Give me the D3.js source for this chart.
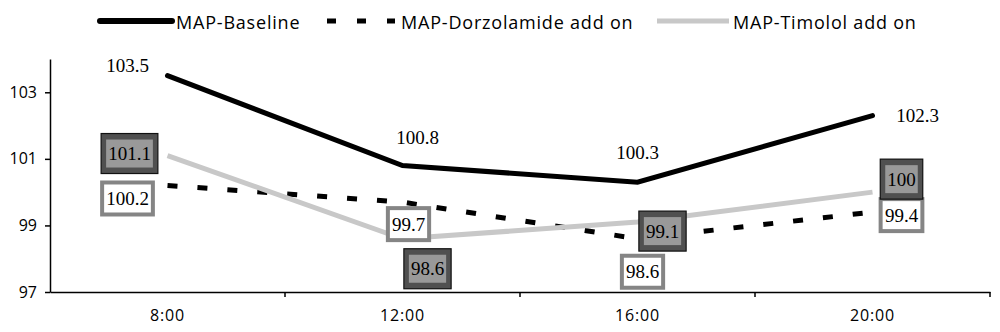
<!DOCTYPE html>
<html>
<head>
<meta charset="utf-8">
<script src="https://cdn.jsdelivr.net/npm/d3@7"></script>
<style>
  body { margin: 0; background: #fff; }
</style>
</head>
<body>
<div id="chart"></div>
<script>
const times = ['8:00', '12:00', '16:00', '20:00']
const baseline = [103.5, 100.8, 100.3, 102.3]
const dorzolamide = [100.2, 99.7, 98.6, 99.4]
const timolol = [101.1, 98.6, 99.1, 100]
const yTicks = [97, 99, 101, 103]
const seriesNames = ['MAP-Baseline', 'MAP-Dorzolamide add on', 'MAP-Timolol add on']

// label offsets from the point (centre of the label), by series
const baseOff = [[-40, -10], [15, -28], [0, -30], [45, 0]]
const dorzOff = [[-40, 13], [6, 22], [5, 33], [29, 3]]
const timoOff = [[-38, -2], [25, 30], [25, 9], [29, -13]]

const W = 1000, H = 332
const margin = { top: 59, right: 10, bottom: 40, left: 50 }

const svg = d3.select('#chart').append('svg')
  .attr('width', W).attr('height', H)

const x = d3.scaleBand().domain(times).range([margin.left, W - margin.right])
const y = d3.scaleLinear().domain([97, 104]).range([H - margin.bottom, margin.top])
const cx = d => x(d) + x.bandwidth() / 2

const sans = '"Open Sans", sans-serif'
const serif = '"Liberation Serif", "Times New Roman", serif'

// axes
const xAxis = svg.append('g')
  .attr('transform', 'translate(0,' + (H - margin.bottom) + ')')
  .call(d3.axisBottom(x).tickSize(0).tickPadding(18))
xAxis.select('.domain').attr('stroke', '#000').attr('stroke-width', 1.5)
xAxis.selectAll('text').attr('font-family', sans).attr('font-size', 16).attr('fill', '#000')
  .style('letter-spacing', '0.8px')

// boundary ticks between categories
const bounds = times.map(t => x(t)).concat([W - margin.right])
svg.append('g').selectAll('line').data(bounds.slice(1)).enter().append('line')
  .attr('x1', d => d).attr('x2', d => d)
  .attr('y1', H - margin.bottom).attr('y2', H - margin.bottom + 5)
  .attr('stroke', '#000').attr('stroke-width', 1.5)

const yAxis = svg.append('g')
  .attr('transform', 'translate(' + margin.left + ',0)')
  .call(d3.axisLeft(y).tickValues(yTicks).tickFormat(d3.format('d')).tickSize(5).tickPadding(8).tickSizeOuter(0))
yAxis.select('.domain').attr('stroke', '#000').attr('stroke-width', 1.5)
yAxis.selectAll('.tick line').attr('stroke', '#000').attr('stroke-width', 1.5)
yAxis.selectAll('text').attr('font-family', sans).attr('font-size', 16).attr('fill', '#000')

// lines
const line = d3.line().x((d, i) => cx(times[i])).y(d => y(d))

svg.append('path').datum(dorzolamide).attr('d', line)
  .attr('fill', 'none').attr('stroke', '#000').attr('stroke-width', 5)
  .attr('stroke-dasharray', '10,20')
svg.append('path').datum(timolol).attr('d', line)
  .attr('fill', 'none').attr('stroke', '#c8c8c8').attr('stroke-width', 5)
svg.append('path').datum(baseline).attr('d', line)
  .attr('fill', 'none').attr('stroke', '#000').attr('stroke-width', 5)
  .attr('stroke-linecap', 'round')

// baseline labels: plain text
svg.append('g').selectAll('text').data(baseline).enter().append('text')
  .attr('x', (d, i) => cx(times[i]) + baseOff[i][0])
  .attr('y', (d, i) => y(d) + baseOff[i][1])
  .attr('text-anchor', 'middle').attr('dominant-baseline', 'central')
  .attr('font-family', serif).attr('font-size', 19).text(d => d)

// boxed labels
function boxed (data, off, dark) {
  const g = svg.append('g').selectAll('g').data(data).enter().append('g')
    .attr('transform', (d, i) => 'translate(' + (cx(times[i]) + off[i][0]) + ',' + (y(d) + off[i][1]) + ')')
  g.append('text')
    .attr('text-anchor', 'middle').attr('dominant-baseline', 'central')
    .attr('font-family', serif).attr('font-size', 19).text(d => d)
  g.each(function () {
    const el = d3.select(this)
    const bb = el.select('text').node().getBBox()
    const w = bb.width + 4
    const h = 28
    if (dark) {
      el.insert('rect', 'text')
        .attr('x', -w / 2 - 5).attr('y', -h / 2 - 6).attr('width', w + 10).attr('height', h + 12)
        .attr('fill', '#505050').attr('stroke', '#111').attr('stroke-width', 1.2)
      el.insert('rect', 'text')
        .attr('x', -w / 2).attr('y', -h / 2).attr('width', w).attr('height', h)
        .attr('fill', '#999')
    } else {
      el.insert('rect', 'text')
        .attr('x', -w / 2 - 4).attr('y', -h / 2 - 4).attr('width', w + 8).attr('height', h + 8)
        .attr('fill', '#858585')
      el.insert('rect', 'text')
        .attr('x', -w / 2).attr('y', -h / 2).attr('width', w).attr('height', h)
        .attr('fill', '#fff')
    }
  })
}
boxed(dorzolamide, dorzOff, false)
boxed(timolol, timoOff, true)

// legend
const legendX = [100, 327, 657]
const legend = svg.append('g').selectAll('g').data(seriesNames).enter().append('g')
  .attr('transform', (d, i) => 'translate(' + legendX[i] + ',21)')
legend.append('line')
  .attr('x1', 0).attr('x2', (d, i) => i === 1 ? 68 : 72).attr('y1', 0).attr('y2', 0)
  .attr('stroke', (d, i) => i === 2 ? '#c8c8c8' : '#000')
  .attr('stroke-width', (d, i) => i === 0 ? 6 : 5)
  .attr('stroke-linecap', (d, i) => i === 0 ? 'round' : 'butt')
  .attr('stroke-dasharray', (d, i) => i === 1 ? '9,21' : null)
legend.append('text')
  .attr('x', (d, i) => i === 1 ? 74 : 76).attr('y', 1)
  .attr('dominant-baseline', 'central')
  .attr('font-family', sans).attr('font-size', 18)
  .style('letter-spacing', '0.8px')
  .text(d => d)
</script>
</body>
</html>
